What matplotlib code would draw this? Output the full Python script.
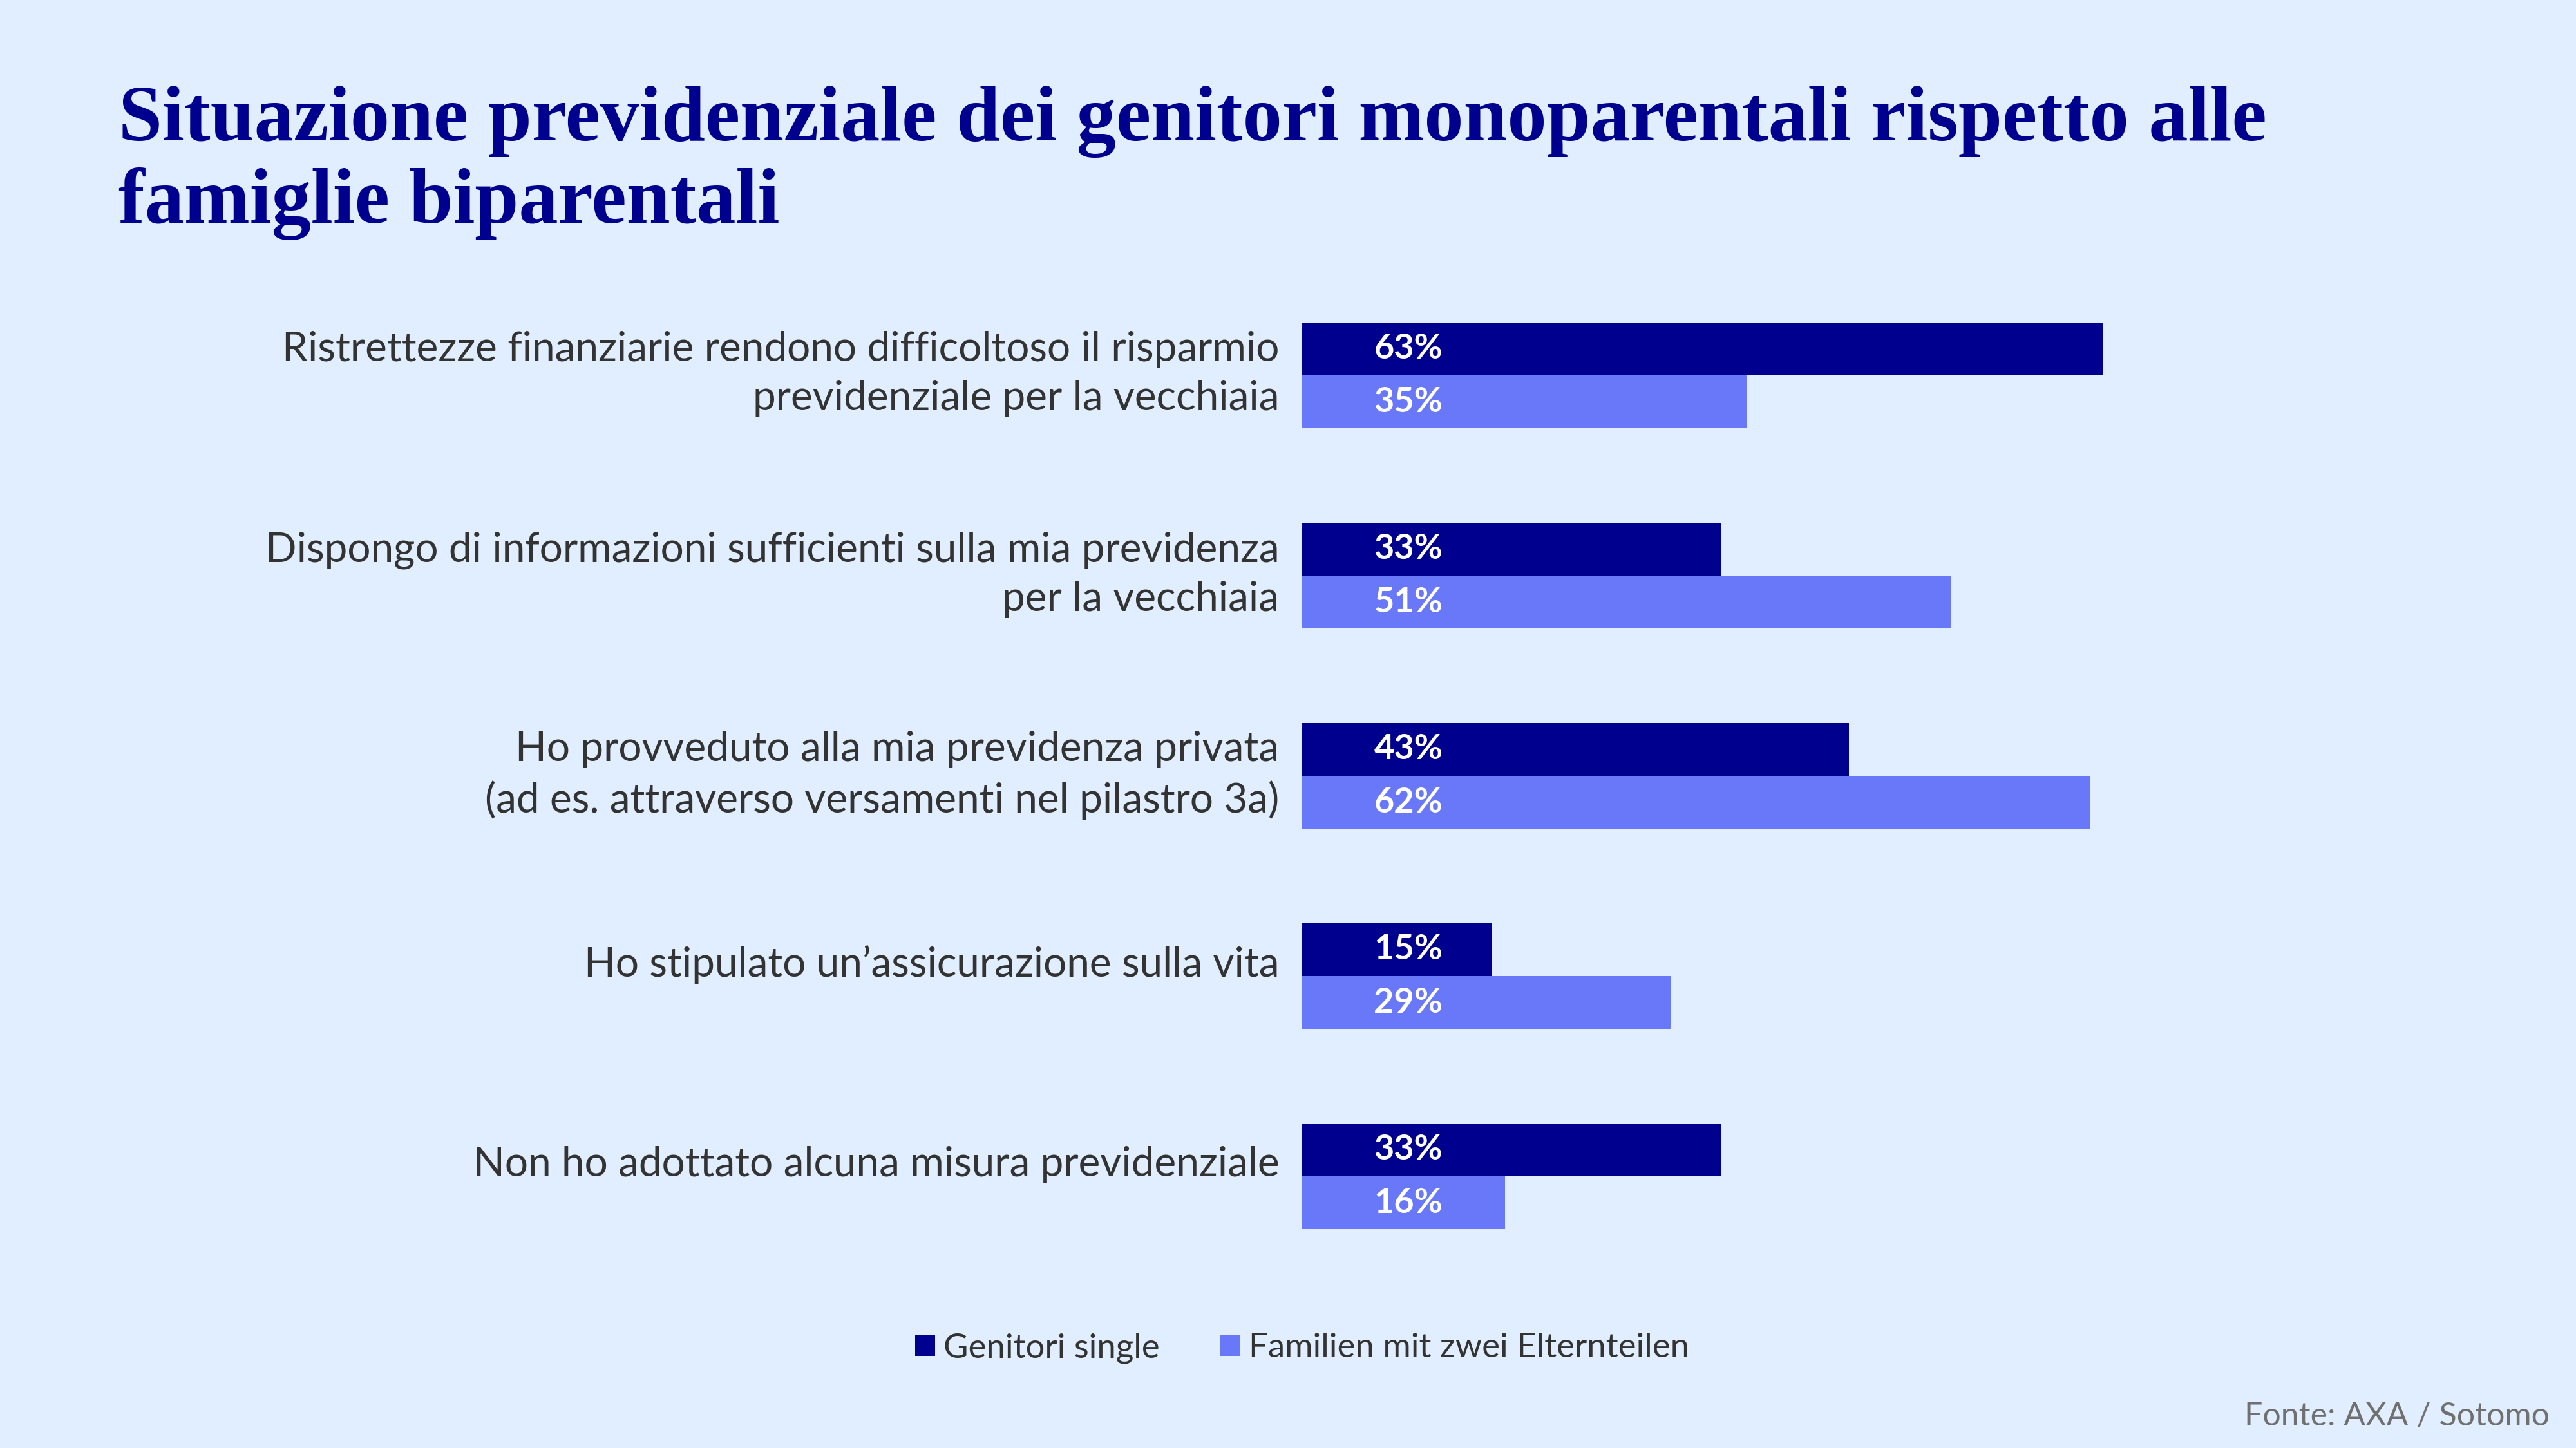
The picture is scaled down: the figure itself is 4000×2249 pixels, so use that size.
import matplotlib
matplotlib.use("Agg")
import matplotlib.pyplot as plt
import matplotlib.transforms as mtransforms
import numpy as np

# data
categories = [
    "Ristrettezze finanziarie rendono difficoltoso il risparmio\nprevidenziale per la vecchiaia",
    "Dispongo di informazioni sufficienti sulla mia previdenza\nper la vecchiaia",
    "Ho provveduto alla mia previdenza privata\n(ad es. attraverso versamenti nel pilastro 3a)",
    "Ho stipulato un\u2019assicurazione sulla vita",
    "Non ho adottato alcuna misura previdenziale",
]
single_parents = [63, 33, 43, 15, 33]
two_parents = [35, 51, 62, 29, 16]
series_names = ["Genitori single", "Familien mit zwei Elternteilen"]

bg = "#E1EEFF"
dark = "#00008F"
light = "#6878F8"
text_col = "#333333"

W, H, DPI = 4000, 2249, 100
fig = plt.figure(figsize=(W / DPI, H / DPI), dpi=DPI, facecolor=bg)

# axes placed by pixel measurements of the reference
x0 = 2021
px_per_pct = 19.76
xmax = 75
ax_w = px_per_pct * xmax
top_px, bot_px = 583 - 155.5, 1827 + 155.5
ax = fig.add_axes([x0 / W, 1 - bot_px / H, ax_w / W, (bot_px - top_px) / H])
ax.set_facecolor(bg)

y = np.arange(len(categories))
h = 0.264
ax.barh(y - h / 2, single_parents, height=h, color=dark, label=series_names[0])
ax.barh(y + h / 2, two_parents, height=h, color=light, label=series_names[1])

for yy, v in list(zip(y - h / 2, single_parents)) + list(zip(y + h / 2, two_parents)):
    ax.annotate(f"{v}%", (0, yy), xytext=(166, 0), textcoords="offset pixels",
                ha="center", va="center", color="white", fontsize=39,
                fontweight="bold", family="Lato")

ax.set_xlim(0, xmax)
ax.set_ylim(len(categories) - 0.5, -0.5)
ax.set_yticks(y)
ax.set_yticklabels(categories, fontsize=46, color=text_col, family="Lato",
                   linespacing=1.38)
ax.tick_params(axis="y", length=0, pad=25)
for lab in ax.get_yticklabels():
    dy = 16 if "\n" in lab.get_text() else 24
    lab.set_transform(lab.get_transform() +
                      mtransforms.Affine2D().translate(0, dy))
ax.set_xticks([])
for s in ax.spines.values():
    s.set_visible(False)

# title
fig.text(184 / W, 1 - 218 / H, "Situazione previdenziale dei genitori monoparentali rispetto alle",
         ha="left", va="baseline", fontsize=88, fontweight="bold", color=dark,
         family="Liberation Serif")
fig.text(184 / W, 1 - 346 / H, "famiglie biparentali",
         ha="left", va="baseline", fontsize=88, fontweight="bold", color=dark,
         family="Liberation Serif")

# legend
leg = fig.legend(loc="center", bbox_to_anchor=(2022 / W, 1 - 2094 / H), ncol=2,
                 frameon=False, handlelength=0.59, handleheight=0.59,
                 handletextpad=0.25, columnspacing=1.78,
                 prop={"family": "Lato", "size": 38})
for t in leg.get_texts():
    t.set_color(text_col)

fig.text(3959 / W, 1 - 2214 / H, "Fonte: AXA / Sotomo", ha="right", va="baseline",
         fontsize=36, color="#707070", family="Lato")

fig.savefig("out.png", dpi=DPI, facecolor=bg)
